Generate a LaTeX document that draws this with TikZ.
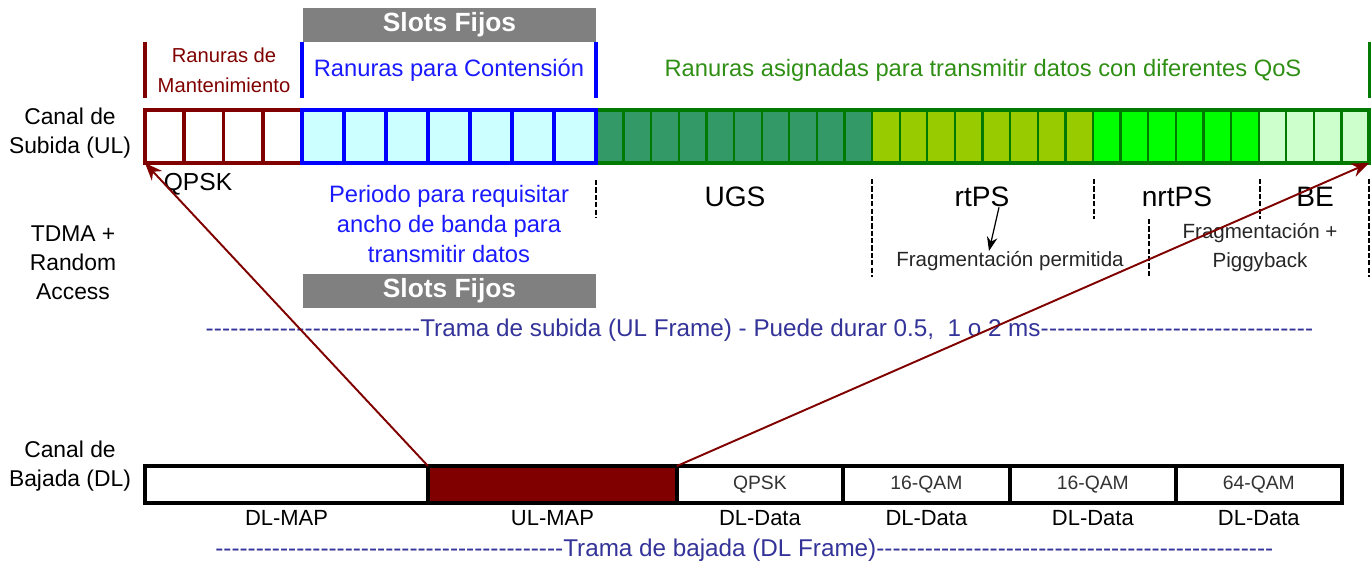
\documentclass[tikz,border=0pt]{standalone}
\usepackage{fontspec}
\setmainfont{Liberation Sans}
\usetikzlibrary{arrows.meta,positioning}
\definecolor{darkred}{HTML}{800000}
\definecolor{contfill}{HTML}{CCFFFF}
\definecolor{qosgreen}{HTML}{007A00}
\definecolor{ugsfill}{HTML}{339966}
\definecolor{rtpsfill}{HTML}{99CC00}
\definecolor{nrtpsfill}{HTML}{00FF00}
\definecolor{befill}{HTML}{CCFFCC}
\definecolor{labelgreen}{HTML}{2F8F14}
\definecolor{textblue}{HTML}{1A1AFF}
\definecolor{frameblue}{HTML}{333399}
\newcommand{\dashrun}[1]{\hbox to #1{\xleaders\hbox{-}\hfill}}
\tikzset{
  lbl/.style = {font=\fontsize{13}{16.5}\selectfont, align=center, inner sep=0pt},
  qoslbl/.style = {font=\fontsize{16}{18}\selectfont, inner sep=0pt},
  smalllbl/.style = {font=\fontsize{11.7}{16.5}\selectfont, align=center, inner sep=0pt, text=black!85},
  fixbox/.style = {fill=gray, text=white, font=\bfseries\fontsize{15}{17}\selectfont,
                   minimum width=5.86cm, minimum height=0.68cm, inner sep=0pt},
  dlbox/.style = {draw=black, line width=2pt, minimum height=0.74cm, inner sep=0pt, outer sep=0pt,
                  font=\fontsize{11}{13}\selectfont, text=black!80},
  maparrow/.style = {draw=darkred, line width=1.1pt, -{Stealth[length=10pt,width=8pt]}},
  guide/.style = {black, line width=0.7pt, dash pattern=on 3pt off 1.2pt},
  marker/.style = {line width=1.9pt},
  framelbl/.style = {anchor=west, text=frameblue, font=\fontsize{13.8}{16}\selectfont, inner sep=0pt}
}
\begin{document}
\begin{tikzpicture}[x=0.02cm, y=-0.02cm]
  \useasboundingbox (0,0) rectangle (1371,569);
  % canal de subida
  \foreach \i in {0,...,9}
    \draw[qosgreen, line width=1.3pt, fill=ugsfill] ({596+27.61*\i},110) rectangle +(27.61,53);
  \foreach \i in {10,...,17}
    \draw[qosgreen, line width=1.3pt, fill=rtpsfill] ({596+27.61*\i},110) rectangle +(27.61,53);
  \foreach \i in {18,...,23}
    \draw[qosgreen, line width=1.3pt, fill=nrtpsfill] ({596+27.61*\i},110) rectangle +(27.61,53);
  \foreach \i in {24,...,27}
    \draw[qosgreen, line width=1.3pt, fill=befill] ({596+27.61*\i},110) rectangle +(27.61,53);
  \draw[qosgreen, line width=2pt] (596,110) rectangle (1369,163);
  \foreach \i in {0,...,3}
    \draw[darkred, line width=2pt, fill=white] ({145+39.25*\i},110) rectangle +(39.25,53);
  \foreach \i in {0,...,6}
    \draw[blue, line width=2pt, fill=contfill] ({302+42*\i},110) rectangle +(42,53);
  \coordinate (ulsw) at (145,163);
  \coordinate (ulse) at (1369,163);

  % marcas de zona
  \draw[marker, darkred] (145,42) -- (145,98);
  \draw[marker, blue] (302,42) -- (302,98);
  \draw[marker, blue] (596,42) -- (596,98);
  \draw[marker, qosgreen] (1370,42) -- (1370,98);

  \node[fixbox] (fijosa) at (449.5,25) {Slots Fijos};
  \node[fixbox] (fijosb) at (449.5,290.5) {Slots Fijos};

  \node[lbl] (ulcanal) at (70,133) {Canal de\\Subida (UL)};
  \node[lbl] (tdma) at (73,263) {TDMA +\\Random\\Access};
  \node[lbl] (dlcanal) at (70,466) {Canal de\\Bajada (DL)};
  \node[lbl, text=darkred, font=\fontsize{11.5}{17}\selectfont] (mant) at (224,70) {Ranuras de\\Mantenimiento};
  \node[lbl, text=textblue, font=\fontsize{13.5}{17}\selectfont] (cont) at (449,70) {Ranuras para Contensión};
  \node[lbl, text=labelgreen, font=\fontsize{13.5}{17}\selectfont] (qos) at (983,70) {Ranuras asignadas para transmitir datos con diferentes QoS};
  \node[lbl, font=\fontsize{14}{17}\selectfont] (qpskul) at (198,184) {QPSK};
  \node[lbl, text=textblue, font=\fontsize{13.5}{17}\selectfont] (periodo) at (449,224) {Periodo para requisitar\\ancho de banda para\\transmitir datos};

  % clases de servicio
  \node[qoslbl] (ugs) at (735,197) {UGS};
  \node[qoslbl] (rtps) at (982,197) {rtPS};
  \node[qoslbl] (nrtps) at (1177,197) {nrtPS};
  \node[qoslbl] (be) at (1315,197) {BE};
  \node[smalllbl] (fragp) at (1010,261) {Fragmentación permitida};
  \node[smalllbl] (fragpb) at (1260,248) {Fragmentación +\\Piggyback};
  \draw[-{Stealth[length=8pt,width=6pt]}, line width=0.7pt] ([xshift=0.34cm]rtps.south) -- ([xshift=-0.42cm]fragp.north);

  \draw[guide] (596,180) -- (596,217);
  \draw[guide] (872,179) -- (872,277);
  \draw[guide] (1094,179) -- (1094,219);
  \draw[guide] (1149,219) -- (1149,277);
  \draw[guide] (1260,179) -- (1260,219);
  \draw[guide] (1369,179) -- (1369,277);

  \node[framelbl] (ulframe) at (205,330) {\dashrun{4.3cm}Trama de subida (UL Frame) - Puede durar 0.5,\ \ 1 o 2 ms\dashrun{5.46cm}};

  % canal de bajada
  \node[dlbox, fill=white, minimum width=5.66cm] (dlmap) at (286.5,484.5) {};
  \node[dlbox, fill=darkred, minimum width=4.98cm, right=0pt of dlmap] (ulmap) {};
  \node[dlbox, minimum width=3.32cm, right=0pt of ulmap] (qpsk) {QPSK};
  \node[dlbox, minimum width=3.34cm, right=0pt of qpsk] (qama) {16-QAM};
  \node[dlbox, minimum width=3.32cm, right=0pt of qama] (qamb) {16-QAM};
  \node[dlbox, minimum width=3.32cm, right=0pt of qamb] (qamc) {64-QAM};

  \foreach \seg/\txt in {dlmap/DL-MAP, ulmap/UL-MAP, qpsk/DL-Data, qama/DL-Data, qamb/DL-Data, qamc/DL-Data}
    \node[lbl, font=\fontsize{12.5}{15}\selectfont, below=4pt of \seg] (\seg-lbl) {\txt};

  \node[framelbl] (dlframe) at (215,550) {\dashrun{6.96cm}Trama de bajada (DL Frame)\dashrun{7.94cm}};

  % mapas
  \draw[maparrow] (ulmap.north west) -- (ulsw);
  \draw[maparrow] (ulmap.north east) -- (ulse);
\end{tikzpicture}
\end{document}
